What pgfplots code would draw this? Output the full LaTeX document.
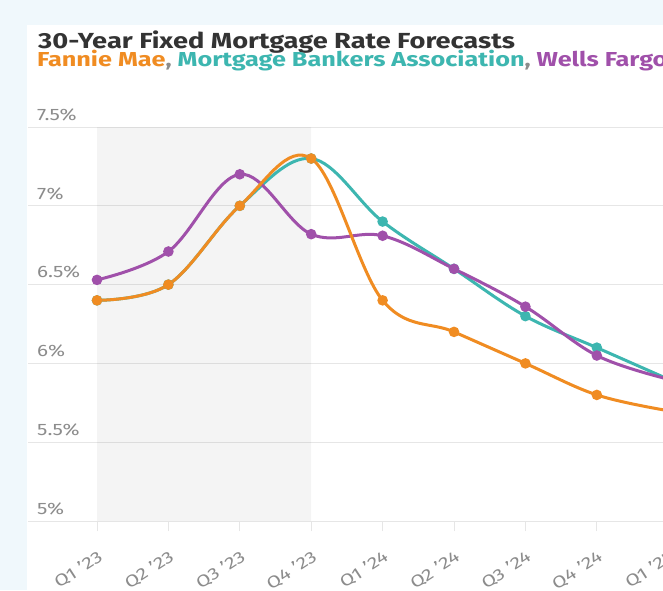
\documentclass[border=0pt]{standalone}
\usepackage{pgfplots}
\pgfplotsset{compat=1.18}
\usetikzlibrary{backgrounds}
\usepackage{fontspec}
\setmainfont[FakeStretch=1.25]{Fira Sans}
\definecolor{bgblue}{HTML}{F0F8FC}
\definecolor{fannie}{HTML}{F08C22}
\definecolor{mba}{HTML}{3DB6B0}
\definecolor{wells}{HTML}{A050AA}
\definecolor{titlec}{HTML}{333333}
\definecolor{tickc}{HTML}{8C8C8C}
\definecolor{gridc}{HTML}{E6E6E6}
\pgfplotstableread{
x fannie mba wells
0 6.40 6.40 6.53
1 6.50 6.50 6.71
2 7.00 7.00 7.20
3 7.30 7.30 6.82
4 6.40 6.90 6.81
5 6.20 6.60 6.60
6 6.00 6.30 6.36
7 5.80 6.10 6.05
8 5.70 5.90 5.90
}\ratedata
\begin{document}
\begin{tikzpicture}[x=1pt,y=1pt]
\begin{axis}[
  scale only axis, width=675.9pt, height=394pt,
  xmin=-0.966, xmax=8.5, ymin=5, ymax=7.5,
  axis line style={draw=none},
  ymajorgrids, grid style={gridc, line width=1pt},
  ytick={5,5.5,6,6.5,7,7.5},
  yticklabels={5\%,5.5\%,6\%,6.5\%,7\%,7.5\%},
  xtick={0,...,8},
  xticklabels={Q1 '23,Q2 '23,Q3 '23,Q4 '23,Q1 '24,Q2 '24,Q3 '24,Q4 '24,Q1 '25},
  tick label style={text=tickc},
  ytick style={draw=none},
  xtick style={draw=gridc, line width=1pt},
  tick align=outside, major tick length=10pt,
  xtick pos=bottom,
  yticklabel style={font=\fontsize{16.5}{18}\selectfont, anchor=south west, inner sep=0pt, xshift=19pt, yshift=6pt},
  xticklabel style={font=\fontsize{16.5}{18}\selectfont, xshift=0pt, yshift=-18pt, rotate=33, anchor=north east, inner sep=0pt},
  clip=false,
]
\coordinate (O) at (axis cs:0,5);
\addplot[draw=none, fill=black, fill opacity=0.045] coordinates {(0,5) (3,5) (3,7.5) (0,7.5)} \closedcycle;
\addplot[mba, line width=3pt, smooth, tension=0.6, mark=*, mark size=3.7pt, mark options={draw=none, fill=mba}] table[x=x, y=mba] {\ratedata};
\addplot[wells, line width=3pt, smooth, tension=0.6, mark=*, mark size=3.7pt, mark options={draw=none, fill=wells}] table[x=x, y=wells] {\ratedata};
\addplot[fannie, line width=3pt, smooth, tension=0.6, mark=*, mark size=3.7pt, mark options={draw=none, fill=fannie}] table[x=x, y=fannie] {\ratedata};
\end{axis}
\begin{scope}[shift={(O)}, xshift=-97pt, yshift=-69pt]
\begin{scope}[on background layer]
\fill[bgblue] (0,0) rectangle (663,590);
\fill[white] (27,0) rectangle (663,565);
\end{scope}
\node[anchor=base west, inner sep=0pt, font=\fontsize{21.8}{24}\selectfont\bfseries, text=titlec] at (38,541) {30-Year Fixed Mortgage Rate Forecasts};
\node[anchor=base west, inner sep=0pt, font=\fontsize{20.2}{22}\selectfont\bfseries] at (37,523) {\textcolor{fannie}{Fannie Mae}\textcolor{tickc}{,} \textcolor{mba}{Mortgage Bankers Association}\textcolor{tickc}{,} \textcolor{wells}{Wells Fargo}};
\pgfresetboundingbox
\useasboundingbox (0,0) rectangle (663,590);
\end{scope}
\end{tikzpicture}
\end{document}
